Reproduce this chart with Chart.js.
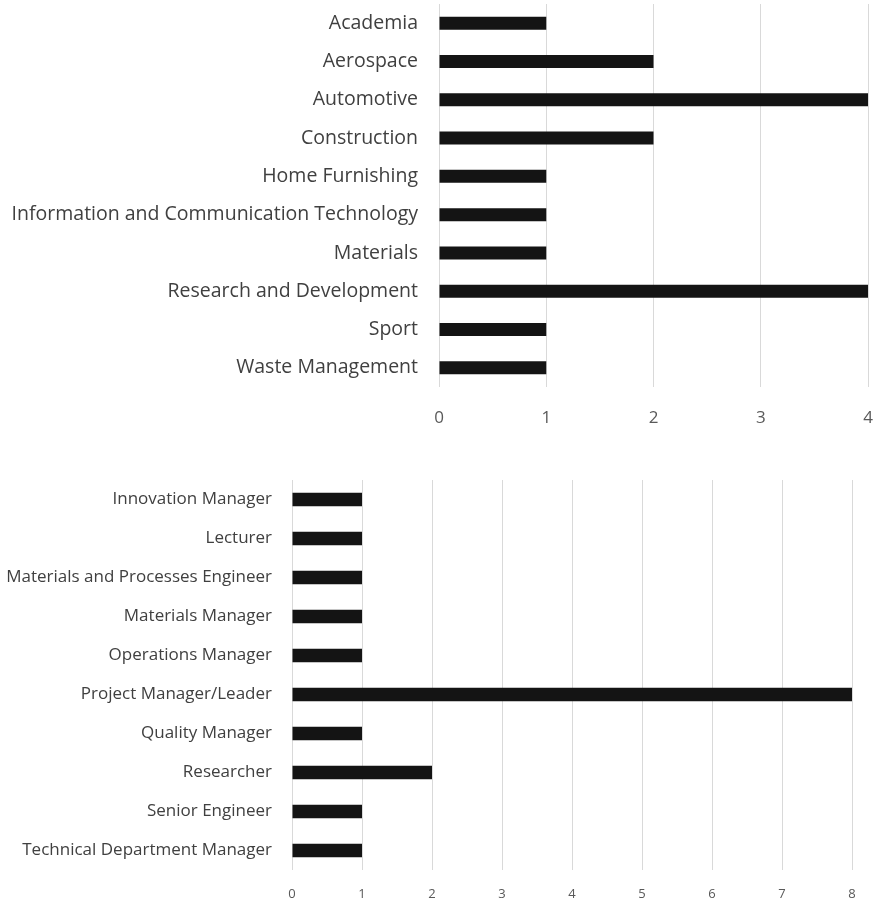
<!DOCTYPE html>
<html>
<head>
<meta charset="utf-8">
<script src="https://cdn.jsdelivr.net/npm/chart.js@4"></script>
<style>
  html, body { margin: 0; padding: 0; background: #fff; }
  canvas { position: absolute; left: 0; }
  #sectorChart { top: 0; }
  #roleChart { top: 440px; }
</style>
</head>
<body>
<canvas id="sectorChart" width="880" height="440"></canvas>
<canvas id="roleChart" width="880" height="465"></canvas>
<script>
const sectorLabels = ['Academia','Aerospace','Automotive','Construction','Home Furnishing','Information and Communication Technology','Materials','Research and Development','Sport','Waste Management'];
const sectorCounts = [1,2,4,2,1,1,1,4,1,1];
const sectorTicks = [0,1,2,3,4];

const roleLabels = ['Innovation Manager','Lecturer','Materials and Processes Engineer','Materials Manager','Operations Manager','Project Manager/Leader','Quality Manager','Researcher','Senior Engineer','Technical Department Manager'];
const roleCounts = [1,1,1,1,1,8,1,2,1,1];
const roleTicks = [0,1,2,3,4,5,6,7,8];

const gridColor = '#d9d9d9';
const barColor = '#141414';

// drop the extra edge padding Chart.js reserves for tick labels
const noPad = s => { s.paddingTop = 0; s.paddingBottom = 0; s.paddingLeft = 0; s.paddingRight = 0; };

function makeChart(id, labels, values, ticks, o) {
  return new Chart(document.getElementById(id), {
    type: 'bar',
    data: {
      labels: labels,
      datasets: [{ data: values, backgroundColor: barColor, barPercentage: 0.34, categoryPercentage: 1 }]
    },
    options: {
      indexAxis: 'y',
      responsive: false,
      animation: false,
      layout: { padding: { top: o.top, right: o.right, bottom: 0, left: 0 } },
      plugins: { legend: { display: false }, tooltip: { enabled: false } },
      scales: {
        x: {
          min: 0, max: ticks[ticks.length - 1],
          afterBuildTicks: s => { s.ticks = ticks.map(v => ({ value: v })); },
          afterFit: s => { s.height = o.axisHeight; noPad(s); },
          grid: { color: gridColor, drawTicks: false },
          border: { display: false },
          ticks: { color: '#595959', font: { family: o.font, size: o.tickSize }, padding: o.tickPad, maxRotation: 0 }
        },
        y: {
          afterFit: s => { s.width = o.axisWidth; noPad(s); },
          grid: { display: false },
          border: { display: false },
          ticks: { color: '#404040', font: { family: o.font, size: o.labelSize }, padding: o.labelPad, autoSkip: false }
        }
      }
    }
  });
}

makeChart('sectorChart', sectorLabels, sectorCounts, sectorTicks,
  { top: 4, right: 12, axisWidth: 439, axisHeight: 53, font: "'Open Sans', sans-serif", tickSize: 17, labelSize: 19.5, tickPad: 21, labelPad: 13 });
makeChart('roleChart', roleLabels, roleCounts, roleTicks,
  { top: 40, right: 28, axisWidth: 292, axisHeight: 35, font: "'Open Sans', sans-serif", tickSize: 13, labelSize: 17, tickPad: 16, labelPad: 12 });
</script>
</body>
</html>
